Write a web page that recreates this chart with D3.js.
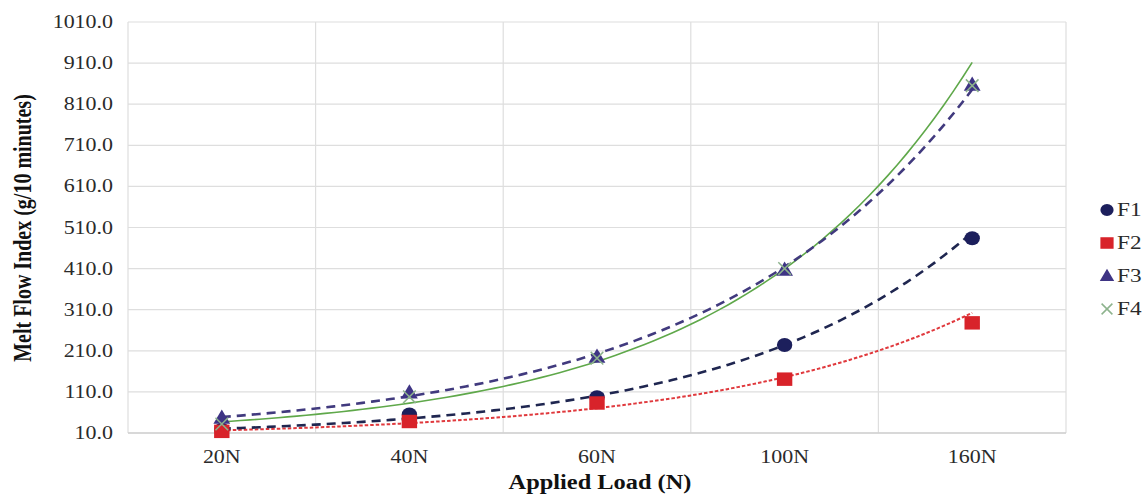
<!DOCTYPE html>
<html lang="en">
<head>
    <meta charset="UTF-8">
    <title>Melt Flow Index vs Applied Load</title>
    <script src="https://d3js.org/d3.v7.min.js"></script>
    <style>
        body { margin: 0; background: #fff; }
        text { font-family: "Liberation Serif", "Times New Roman", serif; }
        .tick-label { font-size: 18px; fill: #2a2a2a; }
        .axis-title { font-size: 20px; font-weight: bold; fill: #111; }
        .legend-label { font-size: 19px; fill: #2a2a2a; }
        .grid { stroke: #dedede; stroke-width: 1.2px; }
    </style>
</head>
<body>
<svg width="1148" height="495"></svg>
<script>
    const loads = ["20N", "40N", "60N", "100N", "160N"];
    const f1 = [18, 55, 97, 224, 484];
    const f2 = [14, 38, 83, 141, 278];
    const f3 = [47, 108, 195, 407, 857];
    const f4 = [32, 98, 192, 410, 855];
    const yTicks = [10, 110, 210, 310, 410, 510, 610, 710, 810, 910, 1010];

    const series = [
        {name: "F1", values: f1, marker: "circle", color: "#1c1f5c", line: "#1f2650", dash: "9,6", width: 2.6},
        {name: "F2", values: f2, marker: "square", color: "#d8232a", line: "#e0393d", dash: "3.5,2", width: 2},
        {name: "F3", values: f3, marker: "triangle", color: "#3e3484", line: "#413a7e", dash: "9,6", width: 2.6},
        {name: "F4", values: f4, marker: "cross", color: "#8db38d", line: "#5fa84a", dash: null, width: 1.6}
    ];

    const svg = d3.select("svg");
    const plotL = 128, plotR = 1066, plotT = 22, plotB = 433;
    const stretch = 1.22; // the source picture is a bit wider than tall

    const x = d3.scaleBand().domain(loads).range([plotL, plotR]);
    const xi = d3.scaleLinear().domain([0, loads.length - 1])
        .range([x(loads[0]) + x.bandwidth() / 2, x(loads[loads.length - 1]) + x.bandwidth() / 2]);
    const y = d3.scaleLinear().domain([10, 1010]).range([plotB, plotT]);

    // gridlines
    svg.append("g").selectAll("line").data(yTicks).enter().append("line")
        .attr("class", "grid")
        .attr("x1", plotL).attr("x2", plotR)
        .attr("y1", d => y(d)).attr("y2", d => y(d));

    const bounds = loads.map(d => x(d)).concat([plotR]);
    svg.append("g").selectAll("line").data(bounds).enter().append("line")
        .attr("class", "grid")
        .attr("x1", d => d).attr("x2", d => d)
        .attr("y1", plotT).attr("y2", plotB);

    svg.append("line").attr("x1", plotL).attr("x2", plotR)
        .attr("y1", plotB).attr("y2", plotB)
        .attr("stroke", "#d0d0d0").attr("stroke-width", 1.5);

    // tick labels
    svg.append("g").selectAll("text").data(yTicks).enter().append("text")
        .attr("class", "tick-label")
        .attr("transform", d => `translate(113,${y(d) + 6}) scale(${stretch},1)`)
        .attr("text-anchor", "end")
        .text(d => d3.format(".1f")(d));

    svg.append("g").selectAll("text").data(loads).enter().append("text")
        .attr("class", "tick-label")
        .attr("transform", d => `translate(${x(d) + x.bandwidth() / 2},463) scale(${stretch},1)`)
        .attr("text-anchor", "middle")
        .text(d => d);

    // axis titles
    svg.append("text").attr("class", "axis-title")
        .attr("transform", `translate(600,489) scale(${stretch},1)`)
        .attr("text-anchor", "middle")
        .text("Applied Load (N)");

    svg.append("text").attr("class", "axis-title")
        .attr("transform", `translate(31,228) scale(${stretch},1) rotate(-90)`)
        .attr("text-anchor", "middle")
        .text("Melt Flow Index (g/10 minutes)");

    // exponential trendline (least squares on ln y, x = 1..n like Excel)
    function expFit(vals) {
        const xs = vals.map((_, i) => i + 1);
        const ls = vals.map(v => Math.log(v));
        const mx = d3.mean(xs), ml = d3.mean(ls);
        const b = d3.sum(xs, (xv, i) => (xv - mx) * (ls[i] - ml)) / d3.sum(xs, xv => (xv - mx) * (xv - mx));
        const a = Math.exp(ml - b * mx);
        return t => a * Math.exp(b * t);
    }

    const line = d3.line().x(d => xi(d[0])).y(d => y(d[1]));

    const trendG = svg.append("g");
    const order = [series[1], series[0], series[3], series[2]];
    order.forEach(s => {
        const f = expFit(s.values);
        const pts = d3.range(0, 4.0001, 0.05).map(t => [t, f(t + 1)]);
        trendG.append("path")
            .attr("d", line(pts))
            .attr("fill", "none")
            .attr("stroke", s.line)
            .attr("stroke-width", s.width)
            .attr("stroke-dasharray", s.dash);
    });

    // markers
    function drawMarker(g, s, cx, cy, size) {
        if (s.marker === "circle") {
            g.append("ellipse").attr("cx", cx).attr("cy", cy)
                .attr("rx", size * 0.55).attr("ry", size * 0.5).attr("fill", s.color);
        } else if (s.marker === "square") {
            g.append("rect").attr("x", cx - size * 0.55).attr("y", cy - size * 0.48)
                .attr("width", size * 1.1).attr("height", size * 0.96).attr("fill", s.color);
        } else if (s.marker === "triangle") {
            const h = size * 0.6;
            g.append("path").attr("d", `M${cx},${cy - h}L${cx + h},${cy + h * 0.7}L${cx - h},${cy + h * 0.7}Z`)
                .attr("fill", s.color);
        } else {
            const h = size * 0.45;
            g.append("path").attr("d", `M${cx - h},${cy - h}L${cx + h},${cy + h}M${cx - h},${cy + h}L${cx + h},${cy - h}`)
                .attr("stroke", s.color).attr("stroke-width", 1.5).attr("fill", "none");
        }
    }

    const markG = svg.append("g");
    series.forEach(s => {
        s.values.forEach((v, i) => drawMarker(markG, s, xi(i), y(v), 14));
    });

    // legend
    const legend = svg.append("g");
    series.forEach((s, i) => {
        const ly = 210 + i * 33;
        drawMarker(legend, s, 1107, ly, 12);
        legend.append("text").attr("class", "legend-label")
            .attr("transform", `translate(1117,${ly + 6}) scale(${stretch},1)`)
            .text(s.name);
    });
</script>
</body>
</html>
